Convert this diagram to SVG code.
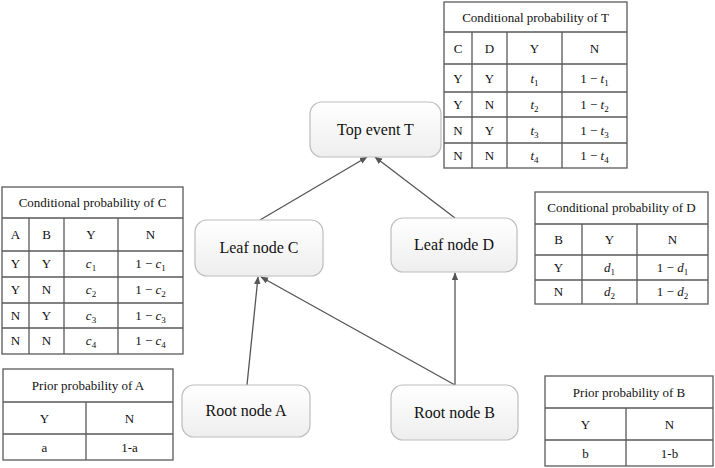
<svg xmlns="http://www.w3.org/2000/svg" width="715" height="468" viewBox="0 0 715 468" font-family="'Liberation Serif', 'Times New Roman', 'DejaVu Serif', serif">
<defs>
<linearGradient id="ng" x1="0" y1="0" x2="0" y2="1">
<stop offset="0" stop-color="#ffffff"/>
<stop offset="1" stop-color="#eeeeee"/>
</linearGradient>
<marker id="ah" viewBox="0 0 10 10" refX="9" refY="5" markerWidth="8" markerHeight="8" markerUnits="userSpaceOnUse" orient="auto">
<path d="M0,1 L10,5 L0,9 z" fill="#555"/>
</marker>
<style>
.node rect{fill:url(#ng);stroke:#bdbdbd;stroke-width:1.2}
.nt{font-size:16px;fill:#111;text-anchor:middle}
.tb{fill:#fff;stroke:#5a5a5a;stroke-width:1.3}
.tl{stroke:#5a5a5a;stroke-width:1.3;fill:none}
.tt{font-size:13px;fill:#111;text-anchor:middle}
.i{font-style:italic}
.s{font-size:9px}
.edge{stroke:#555;stroke-width:1.3;fill:none;marker-end:url(#ah)}
</style>
</defs>
<rect width="715" height="468" fill="#fff"/>

<g id="connectors">
<line class="edge" x1="260" y1="220" x2="367" y2="157"/>
<line class="edge" x1="455" y1="218" x2="375" y2="157"/>
<line class="edge" x1="247" y1="385" x2="258" y2="277"/>
<line class="edge" x1="455" y1="385" x2="261" y2="277"/>
<line class="edge" x1="455" y1="385" x2="455" y2="273"/>
</g>

<g id="nodeT" class="node"><rect x="310" y="102" width="131" height="55" rx="12"/><text class="nt" x="375.5" y="135">Top event T</text></g>
<g id="nodeC" class="node"><rect x="195" y="220" width="128" height="56" rx="12"/><text class="nt" x="259" y="253">Leaf node C</text></g>
<g id="nodeD" class="node"><rect x="391" y="218" width="126" height="54" rx="12"/><text class="nt" x="454" y="250">Leaf node D</text></g>
<g id="nodeA" class="node"><rect x="182" y="385" width="128" height="52" rx="12"/><text class="nt" x="246" y="416">Root node A</text></g>
<g id="nodeB" class="node"><rect x="391" y="385" width="127" height="55" rx="12"/><text class="nt" x="454.5" y="418">Root node B</text></g>

<g id="tableT">
<rect class="tb" x="444" y="2" width="183" height="166"/>
<path class="tl" d="M444,32H627M444,64H627M444,92H627M444,117H627M444,143H627M472,32V168M507,32V168M562,32V168"/>
<text class="tt" x="535.5" y="22">Conditional probability of T</text>
<text class="tt" x="458" y="53">C</text><text class="tt" x="489.5" y="53">D</text><text class="tt" x="534.5" y="53">Y</text><text class="tt" x="594.5" y="53">N</text>
<text class="tt" x="458" y="83">Y</text><text class="tt" x="489.5" y="83">Y</text><text class="tt" x="534.5" y="83"><tspan class="i">t</tspan><tspan class="s" dy="3">1</tspan></text><text class="tt" x="594.5" y="83">1 − <tspan class="i">t</tspan><tspan class="s" dy="3">1</tspan></text>
<text class="tt" x="458" y="109">Y</text><text class="tt" x="489.5" y="109">N</text><text class="tt" x="534.5" y="109"><tspan class="i">t</tspan><tspan class="s" dy="3">2</tspan></text><text class="tt" x="594.5" y="109">1 − <tspan class="i">t</tspan><tspan class="s" dy="3">2</tspan></text>
<text class="tt" x="458" y="135">N</text><text class="tt" x="489.5" y="135">Y</text><text class="tt" x="534.5" y="135"><tspan class="i">t</tspan><tspan class="s" dy="3">3</tspan></text><text class="tt" x="594.5" y="135">1 − <tspan class="i">t</tspan><tspan class="s" dy="3">3</tspan></text>
<text class="tt" x="458" y="160">N</text><text class="tt" x="489.5" y="160">N</text><text class="tt" x="534.5" y="160"><tspan class="i">t</tspan><tspan class="s" dy="3">4</tspan></text><text class="tt" x="594.5" y="160">1 − <tspan class="i">t</tspan><tspan class="s" dy="3">4</tspan></text>
</g>

<g id="tableC">
<rect class="tb" x="2" y="187" width="181" height="167"/>
<path class="tl" d="M2,218H183M2,251H183M2,277H183M2,303H183M2,328H183M29,218V354M64,218V354M118,218V354"/>
<text class="tt" x="92.5" y="207">Conditional probability of C</text>
<text class="tt" x="15.5" y="239">A</text><text class="tt" x="46.5" y="239">B</text><text class="tt" x="91" y="239">Y</text><text class="tt" x="150.5" y="239">N</text>
<text class="tt" x="15.5" y="268">Y</text><text class="tt" x="46.5" y="268">Y</text><text class="tt" x="91" y="268"><tspan class="i">c</tspan><tspan class="s" dy="3">1</tspan></text><text class="tt" x="150.5" y="268">1 − <tspan class="i">c</tspan><tspan class="s" dy="3">1</tspan></text>
<text class="tt" x="15.5" y="294">Y</text><text class="tt" x="46.5" y="294">N</text><text class="tt" x="91" y="294"><tspan class="i">c</tspan><tspan class="s" dy="3">2</tspan></text><text class="tt" x="150.5" y="294">1 − <tspan class="i">c</tspan><tspan class="s" dy="3">2</tspan></text>
<text class="tt" x="15.5" y="320">N</text><text class="tt" x="46.5" y="320">Y</text><text class="tt" x="91" y="320"><tspan class="i">c</tspan><tspan class="s" dy="3">3</tspan></text><text class="tt" x="150.5" y="320">1 − <tspan class="i">c</tspan><tspan class="s" dy="3">3</tspan></text>
<text class="tt" x="15.5" y="345">N</text><text class="tt" x="46.5" y="345">N</text><text class="tt" x="91" y="345"><tspan class="i">c</tspan><tspan class="s" dy="3">4</tspan></text><text class="tt" x="150.5" y="345">1 − <tspan class="i">c</tspan><tspan class="s" dy="3">4</tspan></text>
</g>

<g id="tableD">
<rect class="tb" x="535" y="192" width="173" height="112"/>
<path class="tl" d="M535,224H708M535,255H708M535,280H708M582,224V304M637,224V304"/>
<text class="tt" x="621.5" y="212">Conditional probability of D</text>
<text class="tt" x="558.5" y="244">B</text><text class="tt" x="609.5" y="244">Y</text><text class="tt" x="672.5" y="244">N</text>
<text class="tt" x="558.5" y="272">Y</text><text class="tt" x="609.5" y="272"><tspan class="i">d</tspan><tspan class="s" dy="3">1</tspan></text><text class="tt" x="672.5" y="272">1 − <tspan class="i">d</tspan><tspan class="s" dy="3">1</tspan></text>
<text class="tt" x="558.5" y="296">N</text><text class="tt" x="609.5" y="296"><tspan class="i">d</tspan><tspan class="s" dy="3">2</tspan></text><text class="tt" x="672.5" y="296">1 − <tspan class="i">d</tspan><tspan class="s" dy="3">2</tspan></text>
</g>

<g id="tableA">
<rect class="tb" x="3" y="369" width="170" height="91"/>
<path class="tl" d="M3,402H173M3,434H173M86,402V460"/>
<text class="tt" x="88" y="390">Prior probability of A</text>
<text class="tt" x="44.5" y="422.5">Y</text><text class="tt" x="129.5" y="422.5">N</text>
<text class="tt" x="44.5" y="451.5">a</text><text class="tt" x="129.5" y="451.5">1-a</text>
</g>

<g id="tableB">
<rect class="tb" x="545" y="376" width="168" height="90"/>
<path class="tl" d="M545,408H713M545,440H713M626,408V466"/>
<text class="tt" x="629" y="396.5">Prior probability of B</text>
<text class="tt" x="585.5" y="428.5">Y</text><text class="tt" x="669.5" y="428.5">N</text>
<text class="tt" x="585.5" y="457.5">b</text><text class="tt" x="669.5" y="457.5">1-b</text>
</g>
</svg>
